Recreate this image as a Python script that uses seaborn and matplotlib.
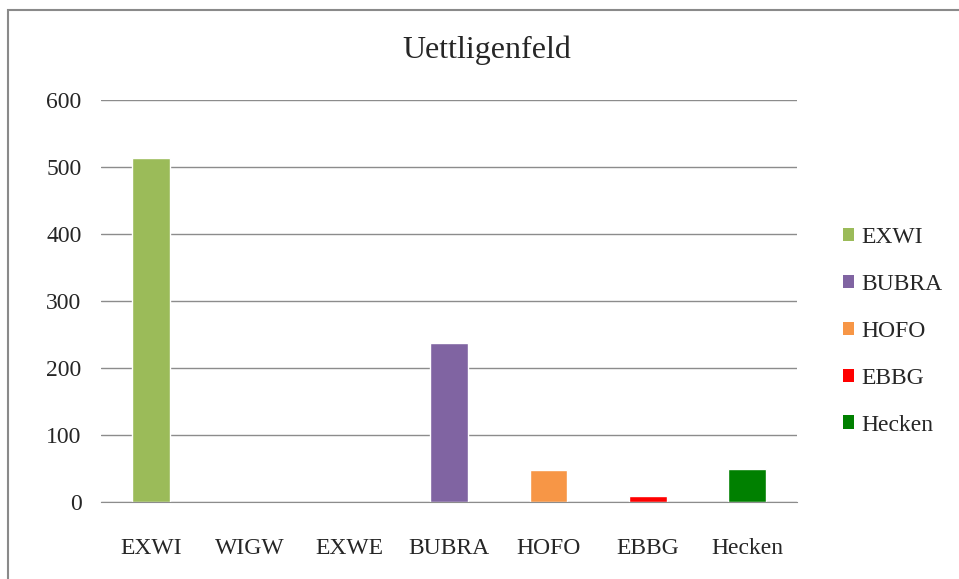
import pandas as pd
import matplotlib.pyplot as plt
import seaborn as sns
from matplotlib.patches import Patch, Rectangle

# Data
categories = ["EXWI", "WIGW", "EXWE", "BUBRA", "HOFO", "EBBG", "Hecken"]
values = [513, 0, 0, 237, 48, 9, 50]
legend_series = ["EXWI", "BUBRA", "HOFO", "EBBG", "Hecken"]
colors = {"EXWI": "#9BBB59", "BUBRA": "#8064A2", "HOFO": "#F79646",
          "EBBG": "#FF0000", "Hecken": "#008000"}

df = pd.DataFrame({"Kategorie": categories, "Wert": values})
df = df[df["Kategorie"].isin(legend_series)]

sns.set_style("white")
plt.rcParams["font.family"] = ["Liberation Serif", "DejaVu Serif"]

fig = plt.figure(figsize=(9.59, 5.79), dpi=100)
ax = fig.add_axes([101 / 959, 1 - 502 / 579, 696 / 959, 402 / 579])

sns.barplot(data=df, x="Kategorie", y="Wert", hue="Kategorie", order=categories,
            hue_order=legend_series, palette=colors, dodge=False, width=0.38,
            saturation=1, legend=False, ax=ax)

ax.set_ylim(0, 600)
ax.set_xlim(-0.5, 6.5)
ax.set_yticks(range(0, 601, 100))
ax.yaxis.grid(True, color="#8c8c8c", linewidth=1)
ax.set_axisbelow(True)
for s in ["top", "right", "left"]:
    ax.spines[s].set_visible(False)
ax.spines["bottom"].set_color("#8c8c8c")
ax.tick_params(axis="y", length=0, pad=14, labelsize=17)
ax.tick_params(axis="x", which="major", length=0, pad=26, labelsize=17)
ax.set_xticks([i + 0.5 for i in range(-1, 7)], minor=True)
ax.tick_params(axis="x", which="minor", length=8, color="#8c8c8c", width=1)
ax.set_xlabel("")
ax.set_ylabel("")

ax.set_title("Uettligenfeld", fontsize=23, pad=30, x=0.555)

handles = [Patch(facecolor=colors[s], edgecolor="none", label=s) for s in legend_series]
ax.legend(handles=handles, loc="center left", bbox_to_anchor=(1.035, 0.425), frameon=False,
          fontsize=17, handlelength=0.5, handleheight=0.5, handletextpad=0.3,
          labelspacing=1.1)

fig.patches.append(Rectangle((8 / 959, -0.01), 0.995, 1 - 10 / 579 + 0.01,
                             transform=fig.transFigure, fill=False,
                             edgecolor="#8a8a8a", linewidth=1.5))

plt.savefig("out.png", dpi=100)
